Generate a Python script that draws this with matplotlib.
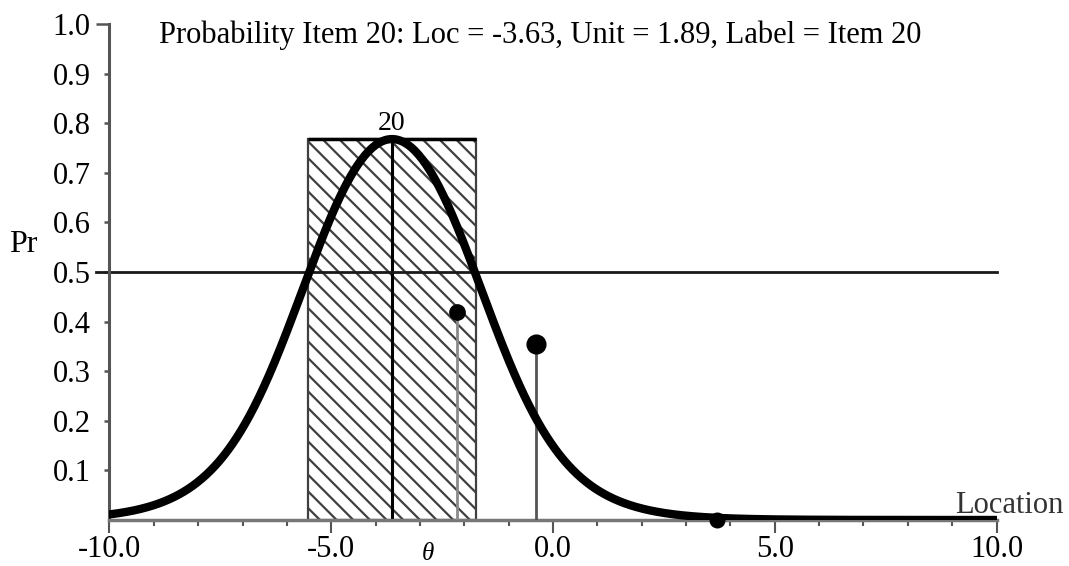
import numpy as np
import matplotlib
matplotlib.use("Agg")
import matplotlib.pyplot as plt
from matplotlib.ticker import MultipleLocator

# -----------------------------
# Data
# -----------------------------
item_label = "20"
item_loc = -3.63
item_unit = 1.89

obs_x = [-2.17, -0.39, 3.69]
obs_y = [0.42, 0.354, 0.0]
obs_size = [11.0, 13.5, 10.5]
obs_stem_color = ["#8a8a8a", "#555555", "#555555"]

x_ticks = [-10.0, -5.0, 0.0, 5.0, 10.0]
y_ticks = [0.1, 0.2, 0.3, 0.4, 0.5, 0.6, 0.7, 0.8, 0.9, 1.0]

# hyperbolic cosine model curve for the item
theta = np.linspace(-10, 10, 801)
gamma = np.exp(item_unit)
prob = gamma / (gamma + 2 * np.cosh(theta - item_loc))
peak = gamma / (gamma + 2)

plt.rcParams["font.family"] = ["Liberation Serif", "DejaVu Serif"]
plt.rcParams["hatch.linewidth"] = 1.6

fig = plt.figure(figsize=(10.69, 5.66), dpi=100)
ax = fig.add_axes([0.1024, 0.0813, 0.8298, 0.8763])

# latitude of acceptance box
ax.bar(item_loc, peak, width=2 * item_unit, fill=False, hatch="\\\\",
       edgecolor="#404040", linewidth=1.6, zorder=1)
ax.hlines(peak, item_loc - item_unit, item_loc + item_unit, color="black", lw=2.5, zorder=2)
ax.vlines(item_loc, 0, peak, color="black", lw=2.2, zorder=2)
ax.text(item_loc, peak + 0.006, item_label, ha="center", va="bottom", fontsize=20)

# 0.5 reference line
ax.axhline(0.5, xmin=-0.015, xmax=1.0, color="#1a1a1a", lw=2, clip_on=False, zorder=2)

# model curve
ax.plot(theta, prob, color="black", lw=6, solid_capstyle="round", zorder=4)

# observed proportions
for x, y, s, c in zip(obs_x, obs_y, obs_size, obs_stem_color):
    ax.vlines(x, 0, y, color=c, lw=2, zorder=3)
    ax.plot(x, y, "o", color="black", ms=s, zorder=5, clip_on=False)

ax.set_xlim(-10, 10)
ax.set_ylim(0, 1.0)
ax.set_xticks(x_ticks)
ax.set_xticklabels([f"{v:.1f}" for v in x_ticks])
ax.xaxis.set_minor_locator(MultipleLocator(1))
ax.set_yticks(y_ticks)
ax.set_yticklabels([f"{v:.1f}" for v in y_ticks])

ax.tick_params(axis="x", which="major", length=9, width=1.5, color="#555555",
               labelsize=22, pad=2)
ax.tick_params(axis="x", which="minor", length=4, width=1.5, color="#555555")
ax.tick_params(axis="y", which="major", length=3.5, width=1.8, color="#555555",
               labelsize=22, pad=10)
top_tick = ax.yaxis.get_major_ticks()[-1]
top_tick.tick1line.set_markersize(9.5)
top_tick.tick1line.set_color("black")

for side in ["top", "right"]:
    ax.spines[side].set_visible(False)
ax.spines["left"].set_color("#555555")
ax.spines["left"].set_linewidth(2.2)
ax.spines["bottom"].set_color("#777777")
ax.spines["bottom"].set_linewidth(2.5)

# texts
ax.text(0.485, 0.962, "Probability Item 20: Loc = -3.63, Unit = 1.89, Label = Item 20",
        transform=ax.transAxes, ha="center", va="baseline", fontsize=22)
fig.text(23 / 1069, 1 - 245 / 566, "Pr", ha="center", va="center", fontsize=23)
fig.text(955 / 1069, 1 - 513 / 566, "Location", ha="left", va="baseline", fontsize=22,
         color="#333333")
fig.text(428 / 1069, 1 - 554 / 566, "\u03b8", ha="center", va="center", fontsize=18,
         style="italic")

fig.savefig("out.png", dpi=100)
